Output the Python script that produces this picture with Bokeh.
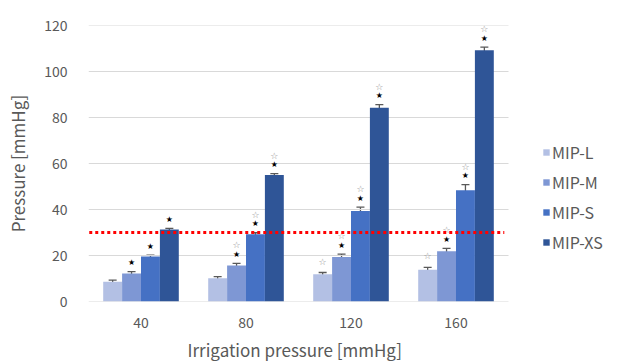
from bokeh.plotting import figure
from bokeh.models import (ColumnDataSource, FactorRange, Range1d, Whisker,
                          Legend, LegendItem, SingleIntervalTicker, Title)
from bokeh.transform import dodge
from bokeh.core.properties import value
from bokeh.embed import file_html
from bokeh.resources import INLINE

categories = ["40", "80", "120", "160"]
series = ["MIP-L", "MIP-M", "MIP-S", "MIP-XS"]
mip_l = [8.6, 10.1, 11.8, 13.8]
mip_m = [12.2, 15.6, 19.4, 21.8]
mip_s = [19.6, 29.2, 39.4, 48.4]
mip_xs = [31.3, 55.0, 84.2, 109.2]
err_l = [0.7, 0.7, 0.8, 1.0]
err_m = [0.8, 1.0, 1.2, 1.3]
err_s = [0.5, 0.7, 1.6, 2.4]
err_xs = [0.5, 0.6, 1.4, 1.4]
# significance marks (black star / white star) per series and category
black_l = [0, 0, 0, 0]
black_m = [1, 1, 1, 1]
black_s = [1, 1, 1, 1]
black_xs = [1, 1, 1, 1]
white_l = [0, 0, 1, 1]
white_m = [0, 1, 1, 1]
white_s = [0, 1, 1, 1]
white_xs = [0, 1, 1, 1]
threshold = 30
y_ticks = [0, 20, 40, 60, 80, 100, 120]

values = [mip_l, mip_m, mip_s, mip_xs]
errors = [err_l, err_m, err_s, err_xs]
blacks = [black_l, black_m, black_s, black_xs]
whites = [white_l, white_m, white_s, white_xs]
colors = ["#b3c0e4", "#7e97d4", "#4571c4", "#2f5597"]
offsets = [-0.27, -0.09, 0.09, 0.27]

FONT = "Noto Sans CJK JP"
GRAY = "#595959"

# an empty trailing factor leaves room inside the frame for the legend
x_range = FactorRange(*(categories + [" "]), range_padding=0)
p = figure(width=620, height=361, x_range=x_range, y_range=Range1d(0, 120),
           output_backend="svg", toolbar_location=None,
           min_border_left=88, min_border_right=7, min_border_top=25,
           min_border_bottom=0)
p.outline_line_color = None
p.title.visible = False
p.xgrid.visible = False
p.ygrid.visible = False

# horizontal gridlines over the category region only
gsrc = ColumnDataSource(dict(c0=[categories[0]] * len(y_ticks),
                             c1=[categories[-1]] * len(y_ticks), y=y_ticks))
p.segment(x0=dodge("c0", -0.5, range=x_range), x1=dodge("c1", 0.5, range=x_range),
          y0="y", y1="y", source=gsrc, line_color="#d9d9d9", line_width=1)

renderers = []
for i, name in enumerate(series):
    v = values[i]
    e = errors[i]
    src = ColumnDataSource(dict(
        cat=categories, val=v,
        upper=[a + b for a, b in zip(v, e)],
        lower=[a - b for a, b in zip(v, e)],
    ))
    r = p.vbar(x=dodge("cat", offsets[i], range=x_range), top="val", width=0.18,
               source=src, fill_color=colors[i], line_color=None)
    renderers.append(r)
    w = Whisker(base=dodge("cat", offsets[i], range=x_range), upper="upper",
                lower="lower", source=src, line_color=GRAY, line_width=1.3)
    for h in (w.upper_head, w.lower_head):
        h.size = 8
        h.line_color = GRAY
        h.line_width = 1.3
    p.add_layout(w)

    bc = [c for c, f in zip(categories, blacks[i]) if f]
    by = [a + b for a, b, f in zip(v, e, blacks[i]) if f]
    if bc:
        bs = ColumnDataSource(dict(cat=bc, y=by, t=["★"] * len(bc)))
        p.text(x=dodge("cat", offsets[i], range=x_range), y="y", text="t", source=bs,
               text_font=value("DejaVu Sans"), text_font_size="8px", text_color="black",
               text_align="center", text_baseline="middle", y_offset=-9)
    wc = [c for c, f in zip(categories, whites[i]) if f]
    wy = [a + b for a, b, f in zip(v, e, whites[i]) if f]
    wo = [(-18 if bk else -11) for bk, f in zip(blacks[i], whites[i]) if f]
    if wc:
        ws = ColumnDataSource(dict(cat=wc, y=wy, t=["☆"] * len(wc), yo=wo))
        p.text(x=dodge("cat", offsets[i], range=x_range), y="y", text="t", source=ws,
               text_font=value("DejaVu Sans"), text_font_size="9px", text_color="#8c8c8c",
               text_align="center", text_baseline="middle", y_offset="yo")

# red dotted threshold line
tsrc = ColumnDataSource(dict(c0=[categories[0]], c1=[categories[-1]], y=[threshold]))
p.segment(x0=dodge("c0", -0.55, range=x_range), x1=dodge("c1", 0.46, range=x_range),
          y0="y", y1="y", source=tsrc, line_color="#ff0000", line_width=3,
          line_dash="3 3")

p.yaxis.ticker = SingleIntervalTicker(interval=20)
for ax in (p.xaxis[0], p.yaxis[0]):
    ax.axis_line_color = None
    ax.major_tick_line_color = None
    ax.minor_tick_line_color = None
    ax.major_tick_out = 0
    ax.major_tick_in = 0
    ax.minor_tick_out = 0
    ax.minor_tick_in = 0
    ax.major_label_text_font = FONT
    ax.major_label_text_font_size = "14px"
    ax.major_label_text_color = GRAY
    ax.axis_label_text_font = FONT
    ax.axis_label_text_font_size = "17px"
    ax.axis_label_text_color = GRAY
    ax.axis_label_text_font_style = "normal"
p.yaxis.major_label_standoff = 21
p.xaxis.major_label_standoff = 10
p.yaxis.axis_label = "Pressure [mmHg]"
p.yaxis.axis_label_standoff = 11

xlabel = Title(text="Irrigation pressure [mmHg]", align="left", offset=99,
               text_font=FONT, text_font_size="17px", text_color=GRAY,
               text_font_style="normal", standoff=0)
p.add_layout(xlabel, "below")

legend = Legend(items=[LegendItem(label=s, renderers=[r]) for s, r in zip(series, renderers)],
                location=(454, 47), glyph_width=8, glyph_height=8, label_standoff=2,
                spacing=6, padding=0, margin=0, border_line_color=None,
                background_fill_alpha=0, label_text_font=FONT, label_text_font_size="16px",
                label_text_color=GRAY, label_height=20)
p.add_layout(legend, "center")

open("out.html", "w").write(file_html(p, INLINE))
